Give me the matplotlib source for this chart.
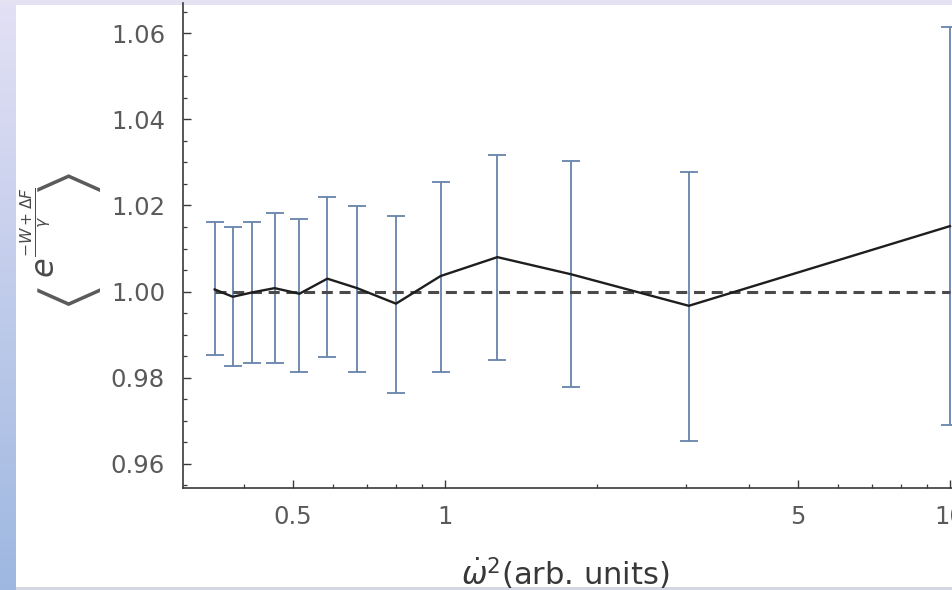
import numpy as np
import matplotlib
matplotlib.use('Agg')
import matplotlib.pyplot as plt
from matplotlib.ticker import FixedLocator, FixedFormatter, NullFormatter

# omega-dot squared (arb. units)
omega2 = [0.35, 0.38, 0.415, 0.46, 0.515, 0.585, 0.67, 0.80, 0.98, 1.27, 1.78, 3.04, 10.0]
# <exp((-W + dF)/gamma)> with error bar ends
mean_val = [1.0005, 0.9988, 0.9998, 1.0008, 0.9995, 1.0030, 1.0008, 0.9972, 1.0036, 1.0080, 1.0040, 0.9967, 1.0152]
upper = [1.0162, 1.0149, 1.0162, 1.0182, 1.0168, 1.0219, 1.0199, 1.0175, 1.0255, 1.0317, 1.0304, 1.0278, 1.0614]
lower = [0.9853, 0.9827, 0.9834, 0.9834, 0.9814, 0.9847, 0.9814, 0.9765, 0.9814, 0.9841, 0.9778, 0.9653, 0.9690]
reference = 1.0

x_major = [0.5, 1, 5, 10]
x_major_labels = ['0.5', '1', '5', '10']
x_minor = [0.3, 0.4, 0.6, 0.7, 0.8, 0.9, 2, 3, 4, 6, 7, 8, 9]
y_major = [0.96, 0.98, 1.00, 1.02, 1.04, 1.06]

plt.rcParams['font.family'] = ['DejaVu Sans']
plt.rcParams['mathtext.fontset'] = 'dejavusans'

W, H = 953, 590
fig = plt.figure(figsize=(W / 100, H / 100), dpi=100)
fig.patch.set_facecolor('white')

# screenshot frame: gradient strip on the left, thin strips top and bottom
bg = fig.add_axes([0, 0, 1, 1], zorder=-1)
bg.set_xlim(0, W)
bg.set_ylim(0, H)
bg.axis('off')
t = np.linspace(0, 1, 200)[:, None]
top_c = np.array([0.89, 0.88, 0.96])
bot_c = np.array([0.62, 0.72, 0.88])
grad = (top_c * (1 - t) + bot_c * t)[:, None, :]
bg.imshow(grad, extent=(0, 16, 0, H), aspect='auto', origin='upper')
bg.add_patch(plt.Rectangle((0, H - 5), W, 5, color='#e3e1f2', lw=0))
bg.add_patch(plt.Rectangle((16, 0), W, 3, color='#d3d8e2', lw=0))

ax = fig.add_axes([183 / W, (H - 488) / H, (W - 183) / W, (488 - 3) / H])
ax.set_facecolor('none')

yerr = [np.array(mean_val) - np.array(lower), np.array(upper) - np.array(mean_val)]
ax.errorbar(omega2, mean_val, yerr=yerr, fmt='none', ecolor='#6683aa',
            elinewidth=1.3, capsize=6.5, capthick=1.3, zorder=2)
ax.plot([omega2[0], omega2[-1]], [reference, reference], color='#4a4a4a',
        lw=2.2, dashes=(3.6, 2.2), zorder=3)
ax.plot(omega2, mean_val, color='#1e1e1e', lw=1.7, zorder=4)

ax.set_xscale('log')
ax.set_xlim(0.3029, 10.14)
ax.set_ylim(0.9544, 1.0670)

ax.xaxis.set_major_locator(FixedLocator(x_major))
ax.xaxis.set_major_formatter(FixedFormatter(x_major_labels))
ax.xaxis.set_minor_locator(FixedLocator(x_minor))
ax.xaxis.set_minor_formatter(NullFormatter())
ax.yaxis.set_major_locator(FixedLocator(y_major))
ax.yaxis.set_major_formatter(plt.FuncFormatter(lambda v, p: '%.2f' % v))
ax.yaxis.set_minor_locator(FixedLocator(np.arange(0.955, 1.0675, 0.005)))

for s in ['top', 'right']:
    ax.spines[s].set_visible(False)
for s in ['left', 'bottom']:
    ax.spines[s].set_color('#3a3a3a')
    ax.spines[s].set_linewidth(1.2)

ax.tick_params(which='major', direction='in', length=5.5, width=1, color='#3a3a3a',
               labelsize=17.5, labelcolor='#5a5a5a')
ax.tick_params(which='minor', direction='in', length=3, width=0.9, color='#3a3a3a')
ax.tick_params(axis='y', which='major', pad=13)
ax.tick_params(axis='x', which='major', pad=12)

fig.text(565 / W, 1 - 573 / H, r'$\dot{\omega}^2$(arb. units)', fontsize=22,
         color='#383838', ha='center', va='center')

# y label: large thin angle brackets around e^((-W+dF)/gamma), rotated
lab_c = '#4a4a4a'
bracket_font = ['STIXSizeOneSym', 'DejaVu Sans']
fig.text(67 / W, 1 - 291 / H, '\u27e8', family=bracket_font, fontsize=37,
         color='#5a5a5a', rotation=90, ha='center', va='center')
fig.text(67 / W, 1 - 177 / H, '\u27e9', family=bracket_font, fontsize=37,
         color='#5a5a5a', rotation=90, ha='center', va='center')
fig.text(43 / W, 1 - 233 / H, r'$e^{\frac{-W+\Delta F}{\gamma}}$',
         fontsize=23, color=lab_c, rotation=90, ha='center', va='center')

plt.savefig('out.png', dpi=100)
